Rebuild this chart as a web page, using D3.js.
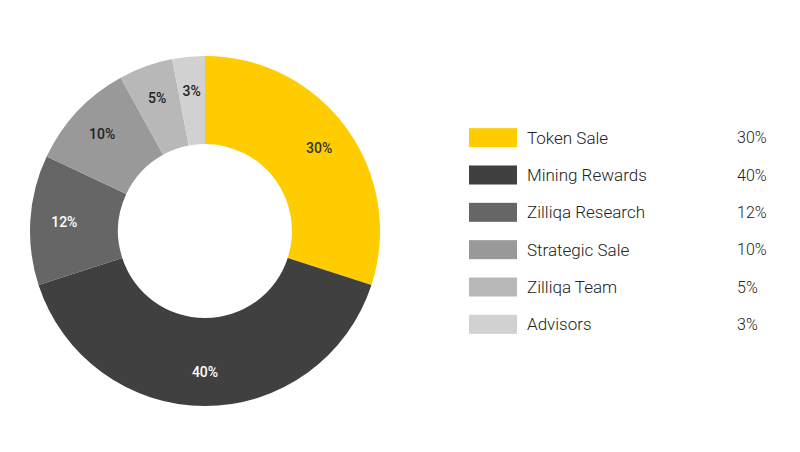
<!DOCTYPE html>
<html><head><meta charset="utf-8">
<script src="https://cdn.jsdelivr.net/npm/d3@7"></script>
<style>body{margin:0;background:#fff;}svg{display:block;font-family:Roboto,sans-serif;}</style>
</head><body>
<svg id="c" width="800" height="452"></svg>
<script>
const categories = ["Token Sale","Mining Rewards","Zilliqa Research","Strategic Sale","Zilliqa Team","Advisors"];
const values = [30,40,12,10,5,3];
const colors = ["#FFCC00","#404040","#666666","#999999","#B8B8B8","#D1D1D1"];
const labelColors = ["#333333","#ffffff","#ffffff","#222222","#222222","#222222"];

const svg = d3.select("#c");
const cx = 205, cy = 231, rOuter = 175, rInner = 87, rLabel = 141;
const data = categories.map((c,i)=>({name:c,value:values[i],i}));
const pie = d3.pie().value(d=>d.value).sort(null);
const arcs = pie(data);
const arc = d3.arc().innerRadius(rInner).outerRadius(rOuter);
const lArc = d3.arc().innerRadius(rLabel).outerRadius(rLabel);
const color = d3.scaleOrdinal().domain(categories).range(colors);

const g = svg.append("g").attr("transform",`translate(${cx},${cy})`);
g.selectAll("path").data(arcs).join("path").attr("d",arc).attr("fill",d=>color(d.data.name));
g.selectAll("text").data(arcs).join("text")
  .attr("transform",d=>`translate(${lArc.centroid(d)})`)
  .attr("text-anchor","middle").attr("dy","0.35em")
  .attr("font-size",14).attr("font-weight",500)
  .attr("fill",d=>labelColors[d.data.i])
  .text(d=>d.data.value+"%");

const y = d3.scaleBand().domain(categories).range([119,343]).paddingInner(0);
const lg = svg.append("g");
const rows = lg.selectAll("g").data(data).join("g").attr("transform",d=>`translate(0,${y(d.name)})`);
rows.append("rect").attr("x",469).attr("y",(y.bandwidth()-19)/2).attr("width",48).attr("height",19).attr("fill",d=>color(d.name));
rows.append("text").attr("x",527).attr("y",y.bandwidth()/2).attr("dy","0.35em")
  .attr("font-size",17).attr("font-weight",300).attr("fill","#222").text(d=>d.name);
rows.append("text").attr("x",737).attr("y",y.bandwidth()/2).attr("dy","0.35em")
  .attr("font-size",16).attr("font-weight",300).attr("fill","#222").text(d=>d.value+"%");
</script>
</body></html>
